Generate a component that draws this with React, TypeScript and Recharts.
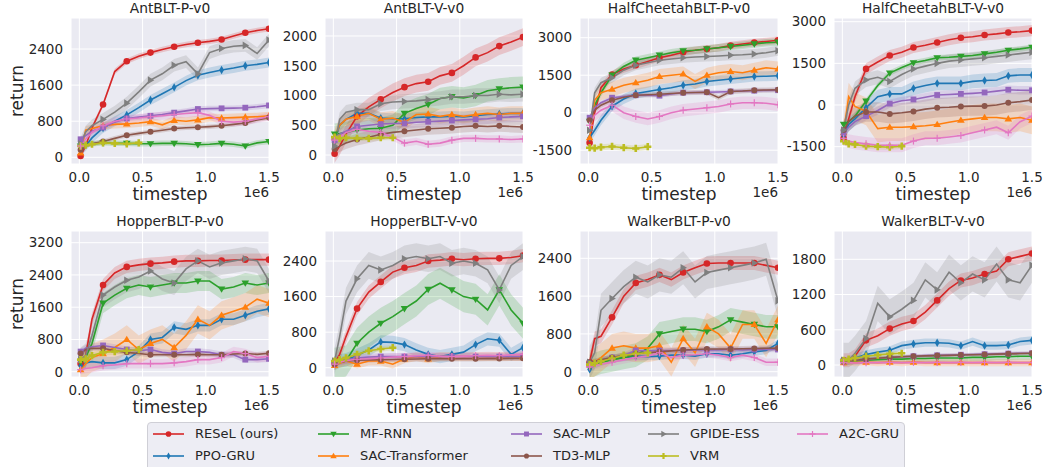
import React from 'react';
import { ComposedChart, Line, Area, XAxis, YAxis, CartesianGrid } from 'recharts';

// timestep grid (in units of 1e6)
const X = [0.01, 0.05, 0.1, 0.1875, 0.28, 0.375, 0.47, 0.5625, 0.656, 0.75, 0.844, 0.9375, 1.03, 1.125, 1.22, 1.3125, 1.406, 1.5];
const MARK_IDX = [0, 3, 5, 7, 9, 11, 13, 15, 17];

const SERIES = ['RESeL (ours)', 'PPO-GRU', 'MF-RNN', 'SAC-Transformer', 'SAC-MLP', 'TD3-MLP', 'GPIDE-ESS', 'VRM', 'A2C-GRU'];
const COLORS = ['#d62728', '#1f77b4', '#2ca02c', '#ff7f0e', '#9467bd', '#8c564b', '#7f7f7f', '#bcbd22', '#e377c2'];
const MARKERS = ['o', 'd', 'v', '^', 's', 'h', '>', 'P', '+'];

const TITLES = ['AntBLT-P-v0', 'AntBLT-V-v0', 'HalfCheetahBLT-P-v0', 'HalfCheetahBLT-V-v0', 'HopperBLT-P-v0', 'HopperBLT-V-v0', 'WalkerBLT-P-v0', 'WalkerBLT-V-v0'];
const YTICKS = [
  [0, 800, 1600, 2400],
  [0, 500, 1000, 1500, 2000],
  [-1500, 0, 1500, 3000],
  [-1500, 0, 1500, 3000],
  [0, 800, 1600, 2400, 3200],
  [0, 800, 1600, 2400],
  [0, 800, 1600, 2400],
  [0, 600, 1200, 1800],
];
const XTICKS = [0, 0.5, 1.0, 1.5];

// series order: RESeL, PPO-GRU, MF-RNN, SAC-Transformer, SAC-MLP, TD3-MLP, GPIDE-ESS, VRM, A2C-GRU
const antP = [
  [30, 250, 650, 1170, 1900, 2130, 2240, 2320, 2390, 2450, 2500, 2540, 2570, 2610, 2690, 2760, 2810, 2850],
  [150, 250, 430, 650, 800, 940, 1100, 1270, 1410, 1550, 1700, 1820, 1880, 1935, 1980, 2030, 2060, 2100],
  [250, 290, 300, 320, 310, 310, 300, 300, 310, 310, 300, 280, 290, 310, 290, 250, 320, 350],
  [100, 600, 640, 700, 730, 740, 760, 790, 720, 820, 800, 830, 880, 870, 880, 890, 900, 920],
  [400, 480, 580, 660, 780, 860, 890, 920, 950, 990, 1030, 1070, 1080, 1085, 1090, 1100, 1120, 1150],
  [170, 250, 300, 350, 420, 490, 530, 565, 600, 640, 655, 665, 680, 700, 730, 760, 830, 880],
  [300, 560, 700, 840, 1000, 1200, 1450, 1710, 1850, 2040, 2120, 1850, 2320, 2410, 2460, 2480, 2300, 2600],
  [250, 270, 290, 320, 310, 300, 320],
  [250, 400, 550, 700, 800, 850, 870, 900, 920, 950, 970, 990, 930, 800, 780, 800, 850, 900],
];
const antPSd = [60, 110, 60, 90, 60, 50, 140, 40, 90];

const antV = [
  [20, 150, 350, 650, 810, 935, 1050, 1140, 1200, 1230, 1330, 1380, 1500, 1640, 1720, 1830, 1900, 1980],
  [250, 500, 600, 700, 700, 620, 610, 610, 630, 640, 640, 650, 640, 660, 680, 690, 700, 700],
  [350, 360, 380, 420, 440, 450, 500, 700, 780, 850, 950, 980, 960, 1000, 1080, 1110, 1130, 1140],
  [300, 500, 600, 650, 700, 600, 620, 550, 680, 690, 650, 680, 650, 680, 700, 680, 700, 700],
  [250, 350, 400, 480, 500, 520, 530, 530, 550, 560, 570, 580, 590, 600, 610, 630, 640, 650],
  [100, 150, 200, 260, 300, 350, 380, 400, 420, 440, 450, 460, 480, 490, 480, 490, 480, 470],
  [150, 600, 720, 760, 760, 860, 890, 900, 910, 930, 950, 980, 980, 1000, 1000, 1020, 1010, 1020],
  [300, 280, 290, 280, 280, 290, 290],
  [250, 300, 380, 430, 400, 380, 300, 200, 230, 180, 200, 250, 280, 280, 270, 270, 260, 270],
];
const antVSd = [150, 90, 180, 120, 90, 100, 120, 40, 60];

const hcP = [
  [-1200, 0, 1000, 1530, 1750, 1900, 2050, 2200, 2300, 2420, 2500, 2550, 2600, 2690, 2750, 2810, 2850, 2900],
  [-1000, -700, -300, 260, 550, 770, 850, 930, 1000, 1100, 1150, 1250, 1300, 1350, 1400, 1450, 1460, 1480],
  [-350, 300, 800, 1500, 1850, 2100, 2200, 2300, 2400, 2470, 2500, 2550, 2600, 2650, 2700, 2750, 2800, 2820],
  [-1000, 500, 800, 940, 1100, 1200, 1300, 1450, 1500, 1550, 1250, 1500, 1600, 1650, 1600, 1700, 1800, 1750],
  [-200, 200, 400, 600, 650, 700, 700, 680, 750, 800, 810, 820, 830, 850, 870, 880, 890, 900],
  [-300, 100, 300, 500, 620, 700, 720, 740, 770, 800, 810, 820, 600, 850, 870, 900, 910, 920],
  [-700, 800, 1200, 1400, 1700, 1900, 2000, 2100, 2150, 2200, 2230, 2250, 2270, 2300, 2320, 2350, 2400, 2480],
  [-1400, -1420, -1380, -1350, -1400, -1430, -1360],
  [-500, -100, 100, 300, 0, -150, -250, -150, 0, 100, 150, 200, 250, 350, 400, 400, 380, 320],
];
const hcPSd = [150, 200, 150, 300, 80, 100, 200, 120, 250];

const hcV = [
  [-1200, -500, 300, 1300, 1550, 1780, 1900, 2070, 2150, 2250, 2350, 2420, 2460, 2520, 2560, 2610, 2640, 2680],
  [-1100, -700, -500, -100, 300, 400, 400, 600, 700, 780, 780, 780, 850, 880, 900, 1050, 1080, 1080],
  [-700, -600, -400, 140, 700, 1150, 1350, 1520, 1600, 1700, 1720, 1750, 1780, 1840, 1900, 1970, 2020, 2080],
  [-1000, 300, -50, -230, -850, -800, -800, -780, -750, -700, -620, -550, -500, -450, -450, -500, -450, -550],
  [-1000, -800, -600, -400, -200, 50, 150, 200, 280, 360, 380, 400, 420, 450, 500, 550, 530, 530],
  [-900, -600, -400, -250, -250, -320, -280, -230, -150, -100, -80, -50, -40, -40, 0, 80, 120, 180],
  [-900, 0, 600, 900, 1000, 850, 1100, 1300, 1400, 1500, 1580, 1620, 1660, 1700, 1750, 1800, 1850, 1900],
  [-1300, -1400, -1420, -1480, -1500, -1520, -1480],
  [-1200, -1300, -1350, -1400, -1450, -1450, -1450, -1300, -1200, -1200, -1150, -1100, -1000, -900, -800, -1000, -600, -400],
];
const hcVSd = [200, 250, 100, 500, 150, 350, 250, 100, 250];

const hopP = [
  [200, 400, 1300, 2150, 2450, 2600, 2650, 2680, 2700, 2730, 2750, 2750, 2760, 2760, 2770, 2780, 2780, 2780],
  [150, 220, 250, 220, 220, 300, 500, 800, 850, 1100, 1050, 1150, 1150, 1300, 1300, 1400, 1500, 1560],
  [250, 350, 700, 1700, 1900, 2070, 2150, 2100, 2150, 2200, 2200, 2250, 2250, 2050, 2100, 2200, 2150, 2200],
  [50, 200, 350, 450, 600, 800, 550, 700, 800, 600, 900, 1300, 1150, 1400, 1500, 1600, 1800, 1700],
  [500, 580, 620, 650, 600, 550, 520, 550, 480, 450, 500, 500, 480, 420, 420, 300, 300, 320],
  [450, 550, 580, 580, 520, 480, 450, 420, 420, 420, 420, 430, 420, 420, 440, 450, 430, 460],
  [300, 400, 900, 1900, 2100, 2270, 2350, 2500, 2300, 2200, 2550, 2750, 2600, 2700, 2750, 2800, 2750, 2250],
  [300, 320, 400, 480, 500, 520, 550],
  [50, 80, 100, 150, 170, 200, 200, 200, 200, 220, 250, 300, 300, 350, 500, 450, 350, 380],
];
const hopPSd = [150, 150, 250, 350, 80, 60, 300, 80, 120];

const hopV = [
  [100, 300, 700, 1330, 1700, 1930, 2150, 2250, 2300, 2400, 2420, 2450, 2430, 2450, 2460, 2460, 2480, 2520],
  [100, 150, 180, 280, 400, 580, 570, 520, 400, 300, 250, 300, 350, 520, 650, 620, 300, 450],
  [100, 120, 150, 550, 800, 1000, 1150, 1330, 1500, 1760, 1900, 1750, 1600, 1540, 1300, 1750, 1300, 1000],
  [50, 100, 150, 80, 150, 150, 80, 200, 250, 200, 250, 250, 250, 250, 250, 250, 250, 250],
  [100, 150, 180, 220, 240, 250, 250, 250, 250, 250, 250, 250, 250, 250, 250, 250, 250, 250],
  [80, 120, 150, 170, 175, 180, 185, 190, 195, 200, 200, 200, 200, 200, 205, 205, 210, 210],
  [150, 700, 1500, 2000, 2300, 2200, 2300, 2450, 2500, 2450, 2500, 2350, 2400, 2350, 2200, 1750, 2300, 2500],
  [150, 180, 220, 300, 380, 420, 450],
  [80, 120, 160, 190, 200, 220, 240, 250, 270, 280, 260, 250, 260, 270, 280, 270, 290, 300],
];
const hopVSd = [150, 150, 350, 100, 80, 60, 300, 60, 80];

const walkP = [
  [200, 700, 750, 1150, 1600, 1880, 1950, 2050, 1950, 2100, 2200, 2290, 2300, 2300, 2300, 2300, 2250, 2200],
  [50, 150, 200, 270, 300, 330, 320, 330, 350, 350, 330, 380, 380, 350, 380, 420, 450, 600],
  [100, 150, 200, 250, 300, 350, 500, 800, 850, 900, 900, 850, 950, 1100, 1050, 1000, 950, 950],
  [150, 200, 300, 500, 550, 500, 500, 550, 200, 700, 400, 950, 800, 500, 1000, 1000, 600, 1100],
  [150, 200, 250, 300, 350, 450, 440, 450, 450, 450, 460, 460, 460, 470, 460, 470, 470, 470],
  [200, 220, 250, 300, 340, 380, 400, 420, 440, 460, 470, 480, 480, 480, 485, 490, 495, 500],
  [200, 400, 1300, 1550, 1800, 2000, 1900, 2050, 2000, 2200, 1900, 2100, 2150, 2200, 2250, 2300, 2380, 1500],
  [150, 180, 220, 280, 350, 380, 400],
  [100, 130, 160, 200, 250, 300, 330, 400, 300, 350, 360, 380, 350, 300, 350, 300, 200, 200],
];
const walkPSd = [150, 80, 250, 300, 60, 60, 350, 60, 80];

const walkV = [
  [80, 80, 150, 420, 500, 620, 700, 750, 900, 1100, 1300, 1440, 1480, 1550, 1600, 1800, 1850, 1900],
  [60, 80, 120, 180, 220, 250, 330, 360, 380, 380, 370, 330, 400, 330, 330, 340, 400, 420],
  [50, 60, 70, 80, 90, 100, 100, 110, 110, 120, 120, 120, 130, 130, 140, 140, 150, 150],
  [40, 50, 40, 50, 40, 50, 40, 50, 40, 40, 40, 40, 40, 40, 40, 40, 40, 40],
  [60, 70, 80, 100, 120, 130, 140, 150, 160, 165, 170, 175, 180, 185, 190, 195, 200, 200],
  [60, 70, 80, 100, 115, 130, 140, 150, 155, 160, 165, 170, 175, 180, 185, 190, 195, 200],
  [80, 80, 200, 450, 1050, 820, 950, 1100, 1450, 1280, 1580, 1400, 1550, 1450, 1720, 1450, 1400, 1700],
  [80, 100, 120, 150, 170, 190, 200],
  [40, 40, 35, 40, 40, 45, 40, 45, 40, 45, 40, 45, 40, 45, 40, 45, 40, 40],
];
const walkVSd = [120, 70, 60, 60, 30, 30, 300, 40, 30];

const PANEL_DATA = [antP, antV, hcP, hcV, hopP, hopV, walkP, walkV];
const PANEL_SD = [antPSd, antVSd, hcPSd, hcVSd, hopPSd, hopVSd, walkPSd, walkVSd];

// layout
const COL_LEFT = [71, 325, 580, 834];
const ROW_TOP = [18, 231];
const PW = 198;
const PH = 146;
const YDOM: [number, number][] = [
  [-148, 3087],
  [-151, 2302],
  [-2052, 3788],
  [-2125, 3133],
  [-131, 3490],
  [-209, 3075],
  [-112, 2978],
  [-204, 2282],
];
const XDOM: [number, number] = [-0.066, 1.5];

const FONT = "'DejaVu Sans', sans-serif";
const TXT = '#262626';

function Marker({ shape, cx, cy, color, s = 1 }: { shape: string; cx: number; cy: number; color: string; s?: number }) {
  switch (shape) {
    case 'o':
      return <circle cx={cx} cy={cy} r={3.3 * s} fill={color} />;
    case 'h':
      return <circle cx={cx} cy={cy} r={3.0 * s} fill={color} />;
    case 'd':
      return <polygon points={`${cx},${cy - 4.2 * s} ${cx + 2.4 * s},${cy} ${cx},${cy + 4.2 * s} ${cx - 2.4 * s},${cy}`} fill={color} />;
    case 'v':
      return <polygon points={`${cx - 3.8 * s},${cy - 2.6 * s} ${cx + 3.8 * s},${cy - 2.6 * s} ${cx},${cy + 3.8 * s}`} fill={color} />;
    case '^':
      return <polygon points={`${cx - 3.8 * s},${cy + 2.6 * s} ${cx + 3.8 * s},${cy + 2.6 * s} ${cx},${cy - 3.8 * s}`} fill={color} />;
    case 's':
      return <rect x={cx - 2.9 * s} y={cy - 2.9 * s} width={5.8 * s} height={5.8 * s} fill={color} />;
    case '>':
      return <polygon points={`${cx - 2.6 * s},${cy - 3.8 * s} ${cx - 2.6 * s},${cy + 3.8 * s} ${cx + 3.8 * s},${cy}`} fill={color} />;
    case 'P': {
      const a = 1.3 * s, b = 3.6 * s;
      return (
        <polygon
          points={`${cx - a},${cy - b} ${cx + a},${cy - b} ${cx + a},${cy - a} ${cx + b},${cy - a} ${cx + b},${cy + a} ${cx + a},${cy + a} ${cx + a},${cy + b} ${cx - a},${cy + b} ${cx - a},${cy + a} ${cx - b},${cy + a} ${cx - b},${cy - a} ${cx - a},${cy - a}`}
          fill={color}
        />
      );
    }
    case '+':
    default:
      return (
        <g stroke={color} strokeWidth={1.2}>
          <line x1={cx - 3.5 * s} y1={cy} x2={cx + 3.5 * s} y2={cy} />
          <line x1={cx} y1={cy - 3.5 * s} x2={cx} y2={cy + 3.5 * s} />
        </g>
      );
  }
}

function buildRows(series: number[][], sd: number[]) {
  return X.map((x, i) => {
    const r: Record<string, any> = { x };
    series.forEach((s, k) => {
      const v = i < s.length ? s[i] : null;
      r['m' + k] = v;
      r['b' + k] = v == null ? null : [v - sd[k], v + sd[k]];
    });
    return r;
  });
}

const makeDot = (k: number, pid: number) => (props: any) => {
  const { cx, cy, index, value } = props;
  const key = `dot-${pid}-${k}-${index}`;
  const show = k === 7 ? true : MARK_IDX.includes(index);
  if (!show || cx == null || cy == null || value == null || Number.isNaN(cy)) return <g key={key} />;
  return (
    <g key={key}>
      <Marker shape={MARKERS[k]} cx={cx} cy={cy} color={COLORS[k]} />
    </g>
  );
};

const ML = 60;
const MR = 24;
const MT = 12;
const XH = 40;

function Panel({ idx }: { idx: number }) {
  const col = idx % 4;
  const row = Math.floor(idx / 4);
  const left = COL_LEFT[col];
  const top = ROW_TOP[row];
  const rows = buildRows(PANEL_DATA[idx], PANEL_SD[idx]);
  const tickStyle = { fontSize: 13.5, fill: TXT, fontFamily: FONT };
  return (
    <>
      <div style={{ position: 'absolute', left: left - ML, top: top - MT }}>
        <ComposedChart width={ML + PW + MR} height={MT + PH + XH} data={rows} margin={{ top: MT, right: MR, bottom: 0, left: 0 }}>
          <CartesianGrid fill="#EAEAF2" fillOpacity={1} stroke="#ffffff" strokeWidth={1} />
          <XAxis
            type="number"
            dataKey="x"
            domain={XDOM}
            ticks={XTICKS}
            interval={0}
            allowDataOverflow
            axisLine={false}
            tickLine={false}
            height={XH}
            tick={tickStyle}
            tickFormatter={(v: number) => v.toFixed(1)}
          />
          <YAxis
            type="number"
            domain={YDOM[idx]}
            ticks={YTICKS[idx]}
            interval={0}
            allowDataOverflow
            axisLine={false}
            tickLine={false}
            width={ML}
            tick={tickStyle}
          />
          {SERIES.map((_, k) => (
            <Area
              key={'b' + k}
              type="linear"
              dataKey={'b' + k}
              stroke="none"
              fill={COLORS[k]}
              fillOpacity={0.2}
              isAnimationActive={false}
              dot={false}
              activeDot={false}
              connectNulls={false}
            />
          ))}
          {SERIES.map((_, k) => (
            <Line
              key={'m' + k}
              type="linear"
              dataKey={'m' + k}
              stroke={COLORS[k]}
              strokeWidth={1.6}
              isAnimationActive={false}
              dot={makeDot(k, idx)}
              activeDot={false}
              connectNulls={false}
            />
          ))}
        </ComposedChart>
      </div>
      <div
        style={{
          position: 'absolute',
          left,
          width: PW,
          top: top - 19,
          height: 18,
          lineHeight: '18px',
          textAlign: 'center',
          fontFamily: FONT,
          fontSize: 13.8,
          color: TXT,
          whiteSpace: 'nowrap',
        }}
      >
        {TITLES[idx]}
      </div>
      <div
        style={{
          position: 'absolute',
          left,
          width: PW,
          top: top + PH + 19,
          height: 22,
          lineHeight: '22px',
          textAlign: 'center',
          fontFamily: FONT,
          fontSize: 17,
          color: TXT,
        }}
      >
        timestep
      </div>
      <div
        style={{
          position: 'absolute',
          left: left + PW - 60,
          width: 60,
          top: top + PH + 19,
          height: 18,
          lineHeight: '18px',
          textAlign: 'right',
          fontFamily: FONT,
          fontSize: 13.5,
          color: TXT,
        }}
      >
        1e6
      </div>
      {col === 0 && (
        <div
          style={{
            position: 'absolute',
            left: 17 - 40,
            top: top + PH / 2 - 11,
            width: 80,
            height: 22,
            lineHeight: '22px',
            textAlign: 'center',
            fontFamily: FONT,
            fontSize: 17,
            color: TXT,
            transform: 'rotate(-90deg)',
          }}
        >
          return
        </div>
      )}
    </>
  );
}

const LEG_COL_X = [153, 318, 511, 648, 797];
const LEG_ROW_Y = [434.3, 455.7];

function LegendBox() {
  return (
    <>
      <div
        style={{
          position: 'absolute',
          left: 147,
          top: 421.5,
          width: 758,
          height: 50,
          background: 'rgba(234,234,242,0.85)',
          border: '1px solid #cfcfd6',
          borderRadius: 4,
          boxSizing: 'border-box',
        }}
      />
      {SERIES.map((name, k) => {
        const c = Math.floor(k / 2);
        const r = k % 2;
        const x = LEG_COL_X[c];
        const y = LEG_ROW_Y[r];
        return (
          <React.Fragment key={name}>
            <svg style={{ position: 'absolute', left: x, top: y - 6 }} width={31} height={12}>
              <line x1={0} y1={6} x2={31} y2={6} stroke={COLORS[k]} strokeWidth={1.6} />
              <Marker shape={MARKERS[k]} cx={15.5} cy={6} color={COLORS[k]} s={0.85} />
            </svg>
            <div
              style={{
                position: 'absolute',
                left: x + 42,
                top: y - 10,
                height: 20,
                lineHeight: '20px',
                fontFamily: FONT,
                fontSize: 13,
                color: TXT,
                whiteSpace: 'nowrap',
              }}
            >
              {name}
            </div>
          </React.Fragment>
        );
      })}
    </>
  );
}

export default function App() {
  return (
    <div style={{ position: 'absolute', left: 0, top: 0, width: 1047, height: 467, background: '#ffffff', overflow: 'hidden' }}>
      {TITLES.map((_, i) => (
        <Panel key={i} idx={i} />
      ))}
      <LegendBox />
    </div>
  );
}
